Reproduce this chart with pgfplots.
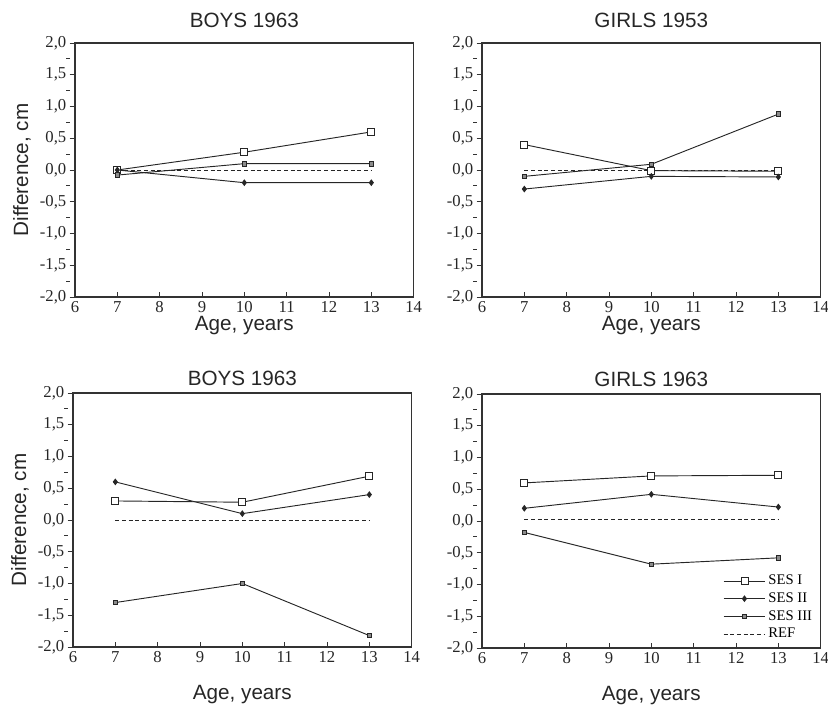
\documentclass[border=0pt]{standalone}
\usepackage{pgfplots}
\pgfplotsset{compat=1.18}
\usepackage{fontspec}
\setmainfont{Liberation Sans}
\newfontfamily\tickfont{Liberation Serif}

\pgfplotsset{
  panel/.style={
    scale only axis, width=254pt, height=190.5pt,
    anchor=south west,
    xmin=6, xmax=14, ymin=-2, ymax=2,
    xtick={6,...,14}, ytick={-2,-1.5,...,2},
    yticklabels={{-2,0},{-1,5},{-1,0},{-0,5},{0,0},{0,5},{1,0},{1,5},{2,0}},
    minor y tick num=1,
    tick align=inside,
    major tick length=4pt, minor tick length=2.5pt,
    y tick style={xshift=-4pt},
    every minor y tick/.style={xshift=-2.5pt},
    yticklabel style={xshift=-3pt},
    xtick pos=bottom, ytick pos=left,
    axis line style={black!80, line width=0.8pt},
    tick style={black!80, line width=0.6pt},
    tick label style={font=\tickfont\fontsize{12.5}{13}\selectfont, black!85},
    /pgf/number format/assume math mode=true,
    title style={font=\fontsize{15.5}{17}\selectfont, black!85},
    label style={font=\fontsize{15.5}{17}\selectfont, black!85},
    xlabel={Age, years},
    every axis plot/.append style={black!85, line width=0.7pt},
  },
  ses1/.style={mark=square*, mark options={fill=white, line width=0.6pt}, mark size=2.6pt},
  ses2/.style={mark=diamond*, mark size=2pt},
  ses3/.style={mark=square*, mark options={fill=black!45, line width=0.6pt}, mark size=1.7pt},
  ref/.style={densely dashed, line width=0.6pt, no marks},
}

\begin{document}
\begin{tikzpicture}
\useasboundingbox (0,0) rectangle (621pt,530.25pt);

% top left
\begin{axis}[panel, at={(56.25pt,307.5pt)}, title={BOYS 1963},
  title style={yshift=2pt},
  ylabel={Difference, cm}, xlabel style={yshift=4pt}]
\addplot[ses1] coordinates {(7,0.0) (10,0.28) (13,0.6)};
\addplot[ses2] coordinates {(7,0.0) (10,-0.2) (13,-0.2)};
\addplot[ses3] coordinates {(7,-0.08) (10,0.1) (13,0.1)};
\addplot[ref] coordinates {(7,0) (13,0)};
\end{axis}

% top right
\begin{axis}[panel, at={(361.5pt,307.5pt)}, title={GIRLS 1953},
  title style={yshift=2pt}, xlabel style={yshift=4pt}]
\addplot[ses1] coordinates {(7,0.4) (10,-0.01) (13,-0.02)};
\addplot[ses2] coordinates {(7,-0.3) (10,-0.1) (13,-0.11)};
\addplot[ses3] coordinates {(7,-0.1) (10,0.09) (13,0.88)};
\addplot[ref] coordinates {(7,0) (13,0)};
\end{axis}

% bottom left
\begin{axis}[panel, at={(54.75pt,45pt)}, title={BOYS 1963},
  title style={yshift=-4pt},
  ylabel={Difference, cm}, xlabel style={yshift=-10pt}]
\addplot[ses1] coordinates {(7,0.3) (10,0.28) (13,0.69)};
\addplot[ses2] coordinates {(7,0.6) (10,0.1) (13,0.4)};
\addplot[ses3] coordinates {(7,-1.3) (10,-1.0) (13,-1.82)};
\addplot[ref] coordinates {(7,0) (13,0)};
\end{axis}

% bottom right
\begin{axis}[panel, at={(361.5pt,44.25pt)}, title={GIRLS 1963},
  title style={yshift=-4pt}, xlabel style={yshift=-10pt},
  legend style={draw=none, fill=none, at={(0.995,0.01)}, anchor=south east,
    font=\tickfont\fontsize{11}{12}\selectfont, row sep=0.5pt},
  legend image code/.code={\draw[mark repeat=2, mark phase=2, #1]
    plot coordinates {(0cm,0cm) (0.55cm,0cm) (1.1cm,0cm)};},
  legend cell align=left]
\addplot[ses1] coordinates {(7,0.6) (10,0.71) (13,0.72)};
\addlegendentry{SES I}
\addplot[ses2] coordinates {(7,0.2) (10,0.42) (13,0.22)};
\addlegendentry{SES II}
\addplot[ses3] coordinates {(7,-0.18) (10,-0.68) (13,-0.58)};
\addlegendentry{SES III}
\addplot[ref] coordinates {(7,0.02) (13,0.02)};
\addlegendentry{REF}
\end{axis}
\end{tikzpicture}
\end{document}
